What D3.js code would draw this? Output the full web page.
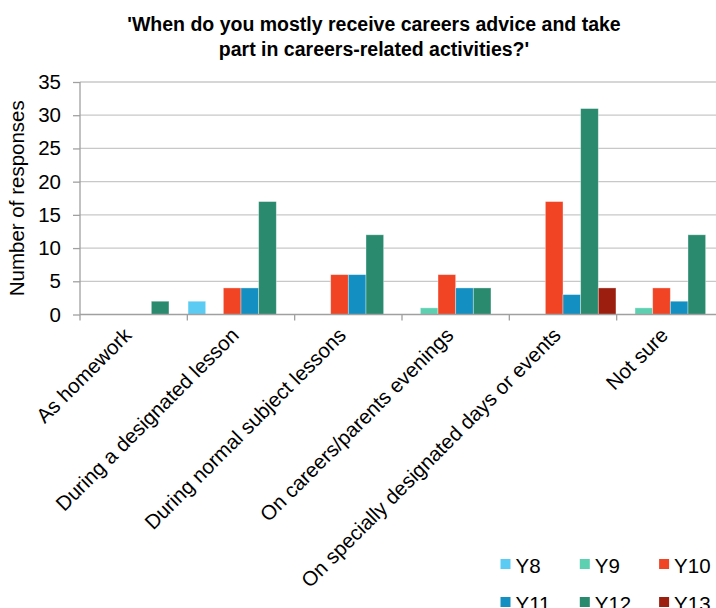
<!DOCTYPE html>
<html><head><meta charset="utf-8">
<script src="https://cdn.jsdelivr.net/npm/d3@7/dist/d3.min.js"></script>
<style>body{margin:0;background:#fff}svg{display:block;font-family:"Liberation Sans",Arial,sans-serif}</style>
</head><body><svg id="c" width="716" height="608"></svg>
<script>
const categories = ["As homework","During a designated lesson","During normal subject lessons","On careers/parents evenings","On specially designated days or events","Not sure"];
const seriesNames = ["Y8","Y9","Y10","Y11","Y12","Y13"];
const Y8  = [0,2,0,0,0,0];
const Y9  = [0,0,0,1,0,1];
const Y10 = [0,4,6,6,17,4];
const Y11 = [0,4,6,4,3,2];
const Y12 = [2,17,12,4,31,12];
const Y13 = [0,0,0,0,4,0];
const yTicks = [0,5,10,15,20,25,30,35];
const colors = ["#5ccbf3","#5ed0b2","#f04425","#138fc1","#2a8a6e","#9b1e0e"];
const seriesValues = [Y8,Y9,Y10,Y11,Y12,Y13];

(function(){
const svg = d3.select("#c");
const pL = 80, pR = 724, pT = 82, pB = 314.5;
const FS = 20.5;
const x = d3.scaleBand().domain(categories).range([pL,pR]).paddingInner(0).paddingOuter(0);
const xs = d3.scaleBand().domain(seriesNames).range([0,x.bandwidth()]).paddingOuter(0.04).paddingInner(0);
const y = d3.scaleLinear().domain([0,35]).range([pB,pT]);

svg.append("g").selectAll("line").data(yTicks.filter(d=>d>0)).join("line")
  .attr("x1",pL).attr("x2",pR).attr("y1",d=>y(d)).attr("y2",d=>y(d))
  .attr("stroke","#c8c8c8").attr("stroke-width",1.3);

const g = svg.append("g");
categories.forEach((c,i)=>{
  seriesNames.forEach((s,j)=>{
    const v = seriesValues[j][i];
    if(v>0){
      g.append("rect").attr("x",x(c)+xs(s)).attr("width",xs.bandwidth())
        .attr("y",y(v)).attr("height",y(0)-y(v)).attr("fill",colors[j])
        .attr("stroke","rgba(255,255,255,0.45)").attr("stroke-width",0.8);
    }
  });
});

const ya = svg.append("g").attr("transform",`translate(${pL},0)`)
  .call(d3.axisLeft(y).tickValues(yTicks).tickSize(7).tickPadding(12));
ya.select(".domain").attr("stroke","#a0a0a0").attr("stroke-width",1.3).attr("d",`M0,${pT}V${pB}`);
ya.selectAll(".tick line").attr("stroke","#a0a0a0").attr("stroke-width",1.3);
ya.selectAll(".tick text").attr("font-size",FS).attr("fill","#000").attr("font-family","Liberation Sans, Arial, sans-serif");

svg.append("line").attr("x1",pL).attr("x2",pR).attr("y1",pB).attr("y2",pB).attr("stroke","#a0a0a0").attr("stroke-width",1.3);
svg.append("g").selectAll("line").data(categories).join("line")
  .attr("x1",d=>x(d)).attr("x2",d=>x(d)).attr("y1",pB).attr("y2",pB+6)
  .attr("stroke","#a0a0a0").attr("stroke-width",1.3);

svg.append("g").selectAll("text").data(categories).join("text")
  .attr("transform",d=>`translate(${x(d)+x.bandwidth()/2-1},${pB+22}) rotate(-45)`)
  .attr("text-anchor","end").attr("font-size",FS).attr("fill","#000")
  .text(d=>d);

svg.append("text").attr("transform",`translate(23.5,${(pT+pB)/2}) rotate(-90)`)
  .attr("text-anchor","middle").attr("font-size",FS).attr("fill","#000").text("Number of responses");

const title = svg.append("text").attr("text-anchor","middle").attr("font-size",19.5).attr("font-weight","bold").attr("fill","#000");
title.append("tspan").attr("x",374).attr("y",31).text("'When do you mostly receive careers advice and take");
title.append("tspan").attr("x",374).attr("y",56).text("part in careers-related activities?'");

const lg = svg.append("g");
seriesNames.forEach((s,j)=>{
  const col = j%3, row = Math.floor(j/3);
  const lx = 500.5 + col*79.3, ly = 559 + row*38;
  lg.append("rect").attr("x",lx).attr("y",ly).attr("width",10).attr("height",10).attr("fill",colors[j]);
  lg.append("text").attr("x",lx+15).attr("y",ly+14).attr("font-size",FS).attr("fill","#000").text(s);
});
})();
</script></body></html>
